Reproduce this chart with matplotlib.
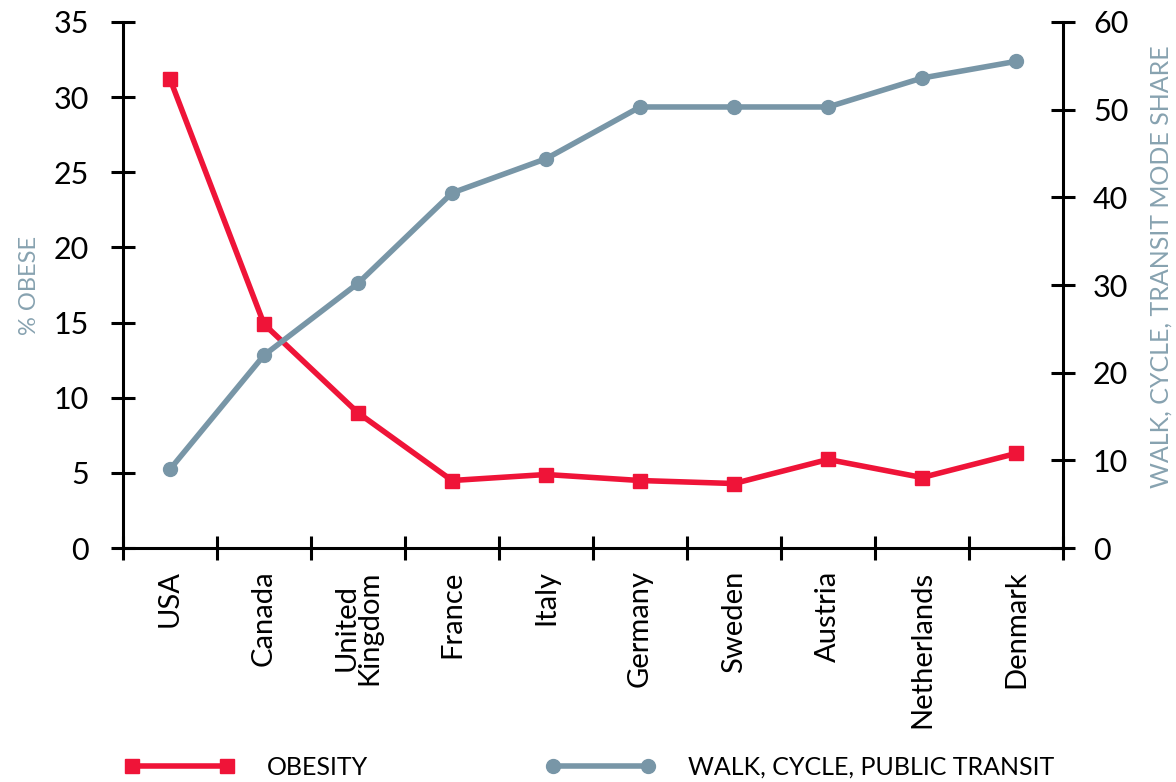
import matplotlib
matplotlib.use("Agg")
import matplotlib.pyplot as plt
import numpy as np

# values
countries = ["USA", "Canada", "United\nKingdom", "France", "Italy",
             "Germany", "Sweden", "Austria", "Netherlands", "Denmark"]
obesity = [31.2, 14.9, 9.0, 4.5, 4.9, 4.5, 4.3, 5.9, 4.7, 6.3]
active_share = [9.0, 22.0, 30.2, 40.5, 44.4, 50.3, 50.3, 50.3, 53.6, 55.5]

left_ticks = [0, 5, 10, 15, 20, 25, 30, 35]
right_ticks = [0, 10, 20, 30, 40, 50, 60]

RED = "#ef1438"
BLUE = "#7896a7"
LABEL_GREY = "#87a2b0"

plt.rcParams["font.family"] = ["Lato", "DejaVu Sans"]
narrow = ["Liberation Sans Narrow", "Lato", "DejaVu Sans"]

fig = plt.figure(figsize=(11.76, 7.82), dpi=100)
ax = fig.add_axes([0.1046, 0.299, 0.7994, 0.673])
ax2 = ax.twinx()

x = np.arange(len(countries))
l1, = ax.plot(x, obesity, color=RED, lw=4, marker="s", ms=10, zorder=3,
              label="OBESITY")
l2, = ax2.plot(x, active_share, color=BLUE, lw=4, marker="o", ms=10,
               zorder=3, label="WALK, CYCLE, PUBLIC TRANSIT")

ax.set_xlim(-0.5, len(countries) - 0.5)
ax.set_ylim(0, 35)
ax2.set_ylim(0, 60)
ax.set_yticks(left_ticks)
ax2.set_yticks(right_ticks)

# ticks sit between the countries, labels sit on them
ax.set_xticks(np.arange(-0.5, len(countries), 1.0))
ax.set_xticklabels([])
ax.set_xticks(x, minor=True)
ax.set_xticklabels(countries, minor=True, rotation=90, fontsize=21,
                   va="top", ha="center", linespacing=0.85)
ax.tick_params(axis="x", which="minor", length=0, pad=16)

for a in (ax, ax2):
    a.spines["top"].set_visible(False)
    for s in ("left", "right", "bottom"):
        a.spines[s].set_linewidth(2.2)
    a.tick_params(which="major", direction="inout", length=17, width=2.2,
                  labelsize=22)
ax.spines["right"].set_visible(False)
ax2.spines["left"].set_visible(False)
ax2.spines["bottom"].set_visible(False)
ax.tick_params(axis="y", pad=16)
ax2.tick_params(axis="y", pad=13)

ax.set_ylabel("% OBESE", color=LABEL_GREY, fontsize=17, family=narrow,
              labelpad=10)
ax2.set_ylabel("WALK, CYCLE, TRANSIT MODE SHARE", color=LABEL_GREY,
               fontsize=18, family=narrow, labelpad=10)
ax2.yaxis.set_label_coords(1.092, 0.535)

# legend: two separate entries placed along the bottom
leg_kw = dict(loc="center left", frameon=False, numpoints=2,
              handlelength=4.4, handletextpad=1.3, borderpad=0,
              borderaxespad=0, prop={"family": narrow, "size": 18})
fig.legend([l1], ["OBESITY"], bbox_to_anchor=(0.106, 0.019), **leg_kw)
fig.legend([l2], ["WALK, CYCLE, PUBLIC TRANSIT"],
           bbox_to_anchor=(0.464, 0.019), **leg_kw)

fig.savefig("out.png", dpi=100)
